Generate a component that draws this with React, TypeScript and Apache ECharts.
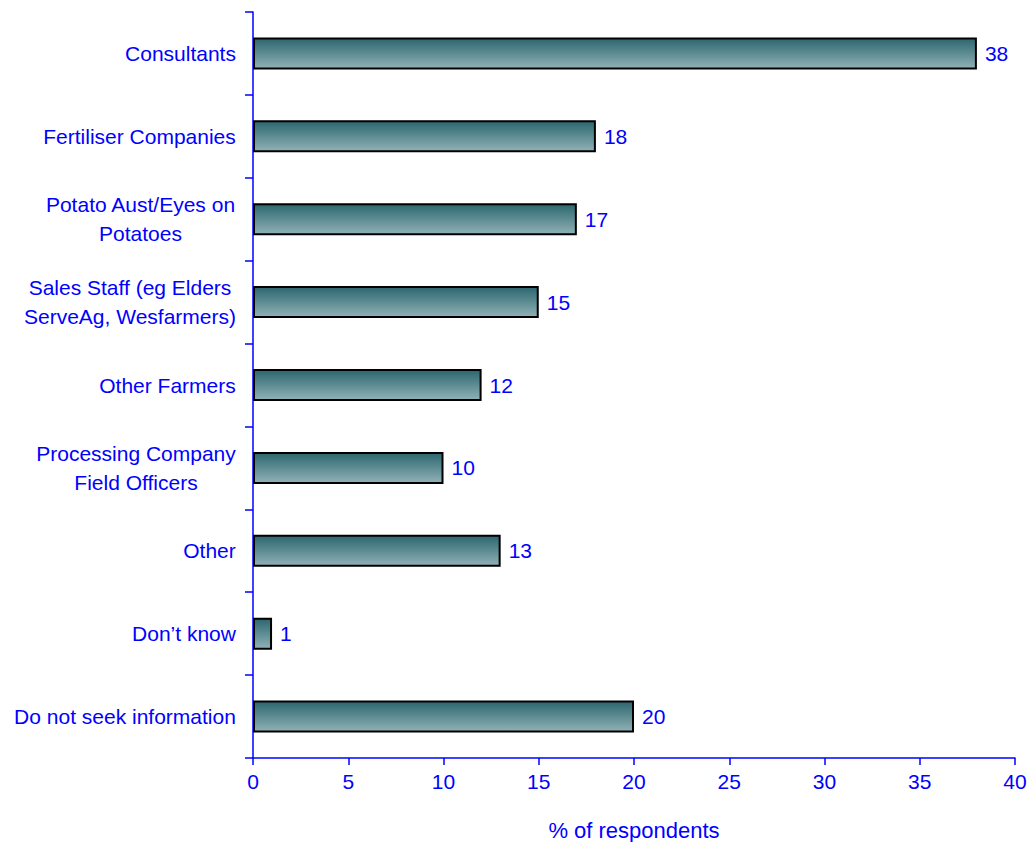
import React, { useEffect, useRef } from "react";
import * as echarts from "echarts";

const categories = [
  "Consultants",
  "Fertiliser Companies",
  "Potato Aust/Eyes on\nPotatoes",
  "Sales Staff (eg Elders\nServeAg, Wesfarmers)",
  "Other Farmers",
  "Processing Company\nField Officers",
  "Other",
  "Don\u2019t know",
  "Do not seek information",
];
const values = [38, 18, 17, 15, 12, 10, 13, 1, 20];
const xTicks = { min: 0, max: 40, interval: 5 };
const xTitle = "% of respondents";

const FONT = "Liberation Sans, Arial, sans-serif";
const FS = 21;

function measure(text: string): number {
  const c = document.createElement("canvas").getContext("2d")!;
  c.font = `${FS}px ${FONT}`;
  return Math.ceil(c.measureText(text).width);
}

export default function App() {
  const ref = useRef<HTMLDivElement>(null);
  useEffect(() => {
    document.body.style.margin = "0";
    const chart = echarts.init(ref.current!, null, { renderer: "svg", width: 1032, height: 842 });
    const blue = "#0000ff";
    const rich: Record<string, any> = {};
    categories.forEach((c, i) => {
      const w = Math.max(...c.split("\n").map(measure));
      rich["c" + i] = {
        width: w,
        align: "center",
        color: blue,
        fontSize: FS,
        fontFamily: FONT,
        lineHeight: 29,
      };
    });
    chart.setOption({
      animation: false,
      grid: {
        left: 253,
        right: 17,
        top: 12,
        bottom: 84,
        containLabel: false,
        outerBoundsMode: "none",
      },
      xAxis: {
        type: "value",
        min: xTicks.min,
        max: xTicks.max,
        interval: xTicks.interval,
        name: xTitle,
        nameLocation: "middle",
        nameGap: 61,
        nameTextStyle: { color: blue, fontSize: 22, fontFamily: FONT },
        axisLine: { show: true, lineStyle: { color: blue, width: 1.5 } },
        axisTick: { show: true, length: 7, inside: false, lineStyle: { color: blue, width: 1.5 } },
        axisLabel: { color: blue, fontSize: FS, fontFamily: FONT, margin: 13 },
        splitLine: { show: false },
      },
      yAxis: {
        type: "category",
        data: categories,
        inverse: true,
        axisLine: { show: true, lineStyle: { color: blue, width: 1.5 } },
        axisTick: { show: true, length: 8, lineStyle: { color: blue, width: 1.5 } },
        axisLabel: {
          color: blue,
          fontSize: FS,
          fontFamily: FONT,
          margin: 17,
          align: "right",
          lineHeight: 29,
          interval: 0,
          formatter: (v: string, i: number) =>
            v
              .split("\n")
              .map((l) => `{c${i}|${l}}`)
              .join("\n"),
          rich,
        },
        splitLine: { show: false },
      },
      series: [
        {
          type: "bar",
          data: values,
          barWidth: 32,
          itemStyle: {
            color: new echarts.graphic.LinearGradient(0, 0, 0, 1, [
              { offset: 0, color: "#2c666f" },
              { offset: 1, color: "#90b2b6" },
            ]),
            borderColor: "#000000",
            borderWidth: 2,
          },
          label: {
            show: true,
            position: "right",
            distance: 8,
            color: blue,
            fontSize: FS,
            fontFamily: FONT,
          },
        },
      ],
    });
    return () => chart.dispose();
  }, []);
  return <div ref={ref} style={{ width: 1032, height: 842 }} />;
}
